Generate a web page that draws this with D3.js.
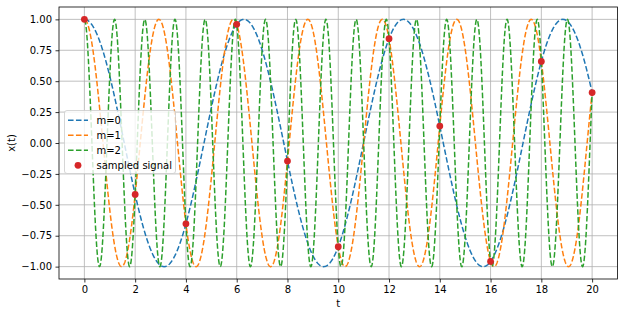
<!DOCTYPE html>
<html>
<head>
<meta charset="utf-8">
<script src="https://cdn.jsdelivr.net/npm/d3@7"></script>
<style>
  body { margin: 0; background: #fff; }
  svg { font-family: "DejaVu Sans", sans-serif; }
</style>
</head>
<body>
<svg id="chart" width="624" height="317"></svg>
<script>
// series labels and the angular frequency of each alias (read from the periods: ~6.28, ~2.93, ~1.19)
const seriesNames = ['m=0', 'm=1', 'm=2'];
const seriesOmega = [1.0, 2.1416, 5.2832];
const seriesColors = ['#1f77b4', '#ff7f0e', '#2ca02c'];

// sampled signal points
const sampleT = [0, 2, 4, 6, 8, 10, 12, 14, 16, 18, 20];
const sampleX = [1.0, -0.416, -0.654, 0.960, -0.146, -0.839, 0.844, 0.137, -0.958, 0.660, 0.408];

// tick labels
const xTicks = [0, 2, 4, 6, 8, 10, 12, 14, 16, 18, 20];
const yTicks = [-1.0, -0.75, -0.5, -0.25, 0.0, 0.25, 0.5, 0.75, 1.0];

const margin = { left: 59, right: 6.5, top: 7, bottom: 38 };
const W = 624, H = 317;
const svg = d3.select('svg#chart');

const x = d3.scaleLinear().domain([-1, 21]).range([margin.left, W - margin.right]);
const y = d3.scaleLinear().domain([-1.1, 1.1]).range([H - margin.bottom, margin.top]);

const minus = (s) => s.replace('-', '\u2212');

// grid
svg.append('g')
  .selectAll('line.gx')
  .data(xTicks)
  .enter()
  .append('line')
  .attr('x1', (d) => x(d)).attr('x2', (d) => x(d))
  .attr('y1', y.range()[0]).attr('y2', y.range()[1])
  .attr('stroke', '#b0b0b0').attr('stroke-width', 0.8);
svg.append('g')
  .selectAll('line.gy')
  .data(yTicks)
  .enter()
  .append('line')
  .attr('y1', (d) => y(d)).attr('y2', (d) => y(d))
  .attr('x1', x.range()[0]).attr('x2', x.range()[1])
  .attr('stroke', '#b0b0b0').attr('stroke-width', 0.8);

// curves
const tGrid = d3.range(0, 20.0001, 0.01);
const line = d3.line().x((d) => x(d[0])).y((d) => y(d[1]));
svg.append('clipPath').attr('id', 'clip').append('rect')
  .attr('x', margin.left).attr('y', margin.top)
  .attr('width', W - margin.left - margin.right)
  .attr('height', H - margin.top - margin.bottom);

seriesOmega.forEach((w, i) => {
  svg.append('path')
    .datum(tGrid.map((t) => [t, Math.cos(w * t)]))
    .attr('d', line)
    .attr('fill', 'none')
    .attr('stroke', seriesColors[i])
    .attr('stroke-width', 1.5)
    .attr('stroke-dasharray', '5.55,2.4')
    .attr('clip-path', 'url(#clip)');
});

// sampled points
svg.append('g')
  .selectAll('circle')
  .data(sampleT)
  .enter()
  .append('circle')
  .attr('cx', (d) => x(d))
  .attr('cy', (d, i) => y(sampleX[i]))
  .attr('r', 3.4)
  .attr('fill', '#d62728');

// axes
const xAxis = svg.append('g')
  .attr('transform', `translate(0,${H - margin.bottom})`)
  .call(d3.axisBottom(x).tickValues(xTicks).tickSize(3.5).tickPadding(3.5).tickFormat(d3.format('d')));
const yAxis = svg.append('g')
  .attr('transform', `translate(${margin.left},0)`)
  .call(d3.axisLeft(y).tickValues(yTicks).tickSize(3.5).tickPadding(3.5)
    .tickFormat((d) => minus(d3.format('.2f')(d))));
[xAxis, yAxis].forEach((g) => {
  g.select('.domain').remove();
  g.selectAll('.tick line').attr('stroke', '#000').attr('stroke-width', 0.8);
  g.selectAll('.tick text').attr('font-size', 10).attr('fill', '#000')
    .attr('font-family', '"DejaVu Sans", sans-serif');
});

// frame
svg.append('rect')
  .attr('x', margin.left).attr('y', margin.top)
  .attr('width', W - margin.left - margin.right)
  .attr('height', H - margin.top - margin.bottom)
  .attr('fill', 'none').attr('stroke', '#000').attr('stroke-width', 0.8);

// axis labels
svg.append('text')
  .attr('x', (x.range()[0] + x.range()[1]) / 2)
  .attr('y', 307)
  .attr('text-anchor', 'middle')
  .attr('font-size', 10)
  .text('t');
svg.append('text')
  .attr('transform', `translate(15,${(y.range()[0] + y.range()[1]) / 2}) rotate(-90)`)
  .attr('text-anchor', 'middle')
  .attr('font-size', 10)
  .text('x(t)');

// legend
const leg = svg.append('g');
leg.append('rect')
  .attr('x', 64.5).attr('y', 110.5).attr('width', 111).attr('height', 63)
  .attr('rx', 2.5)
  .attr('fill', 'rgba(255,255,255,0.8)')
  .attr('stroke', '#cccccc').attr('stroke-width', 0.8);
const legendLabels = seriesNames.concat(['sampled signal']);
legendLabels.forEach((name, i) => {
  const ly = 120.3 + i * 15;
  if (i < 3) {
    leg.append('line')
      .attr('x1', 68).attr('x2', 88).attr('y1', ly).attr('y2', ly)
      .attr('stroke', seriesColors[i]).attr('stroke-width', 1.5)
      .attr('stroke-dasharray', '5.55,2.4');
  } else {
    leg.append('circle').attr('cx', 78).attr('cy', ly).attr('r', 3.4).attr('fill', '#d62728');
  }
  leg.append('text')
    .attr('x', 96.5).attr('y', ly + 3.6)
    .attr('font-size', 10)
    .text(name);
});
</script>
</body>
</html>
